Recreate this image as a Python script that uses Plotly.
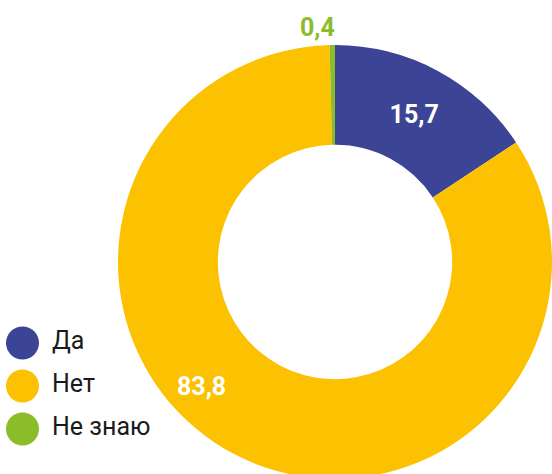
import plotly.graph_objects as go

labels = ["Да", "Нет", "Не знаю"]
values = [15.7, 83.8, 0.4]
colors = ["#3C4495", "#FCC100", "#8BBC2A"]

W, H = 552, 500

def px(x):
    return x / W

def py(y):
    return 1 - y / H

def fmt(v):
    return f"{v:.1f}".replace(".", ",")

fig = go.Figure()

fig.add_trace(go.Pie(
    labels=labels,
    values=values,
    sort=False,
    direction="clockwise",
    rotation=0,
    hole=0.54,
    marker=dict(colors=colors, line=dict(width=0)),
    texttemplate=["%{value:.1f}", "", ""],
    textposition=["inside", "none", "none"],
    insidetextorientation="horizontal",
    textfont=dict(family="Roboto", size=25, color="white", weight="bold"),
    domain=dict(x=[px(118), px(552)], y=[py(479), py(45)]),
    showlegend=False,
    hoverinfo="label+value",
))

# legend drawn as scatter circle markers plus labels
AX_W = 0.2 * W
x_marker = 0.0
x_text = (52 - 22.5) / AX_W
fig.add_trace(go.Scatter(
    x=[x_marker] * 3,
    y=[0, 1, 2],
    mode="markers",
    marker=dict(size=33, color=colors, line=dict(width=0)),
    showlegend=False,
    hoverinfo="skip",
    cliponaxis=False,
))
fig.add_trace(go.Scatter(
    x=[x_text] * 3,
    y=[0, 1, 2],
    mode="text",
    text=labels,
    textposition="middle right",
    textfont=dict(family="Roboto", size=25, color="#1a1a1a"),
    showlegend=False,
    hoverinfo="skip",
    cliponaxis=False,
))

step = 43.0
y0 = 343.0
fig.update_xaxes(domain=[0, 0.2], range=[-22.5 / AX_W, 1 - 22.5 / AX_W],
                 visible=False, fixedrange=True)
fig.update_yaxes(domain=[0, 1], range=[(H - y0) / step, -y0 / step],
                 visible=False, fixedrange=True)

# outside / offset value labels
fig.add_annotation(x=px(201), y=py(386), xref="paper", yref="paper",
                   xanchor="center", yanchor="middle",
                   text=fmt(values[1]), showarrow=False,
                   font=dict(family="Roboto", size=25, color="white", weight="bold"))
fig.add_annotation(x=px(317), y=py(27), xref="paper", yref="paper",
                   xanchor="center", yanchor="middle",
                   text=fmt(values[2]), showarrow=False,
                   font=dict(family="Roboto", size=25, color=colors[2], weight="bold"))

fig.update_layout(
    width=W, height=H,
    margin=dict(l=0, r=0, t=0, b=0),
    paper_bgcolor="white",
    plot_bgcolor="rgba(0,0,0,0)",
    separators=",.",
    showlegend=False,
)

fig.write_html("out.html", config={"displayModeBar": False},
               post_script="document.body.style.margin='0';document.body.style.overflow='hidden';document.documentElement.style.overflow='hidden';")
